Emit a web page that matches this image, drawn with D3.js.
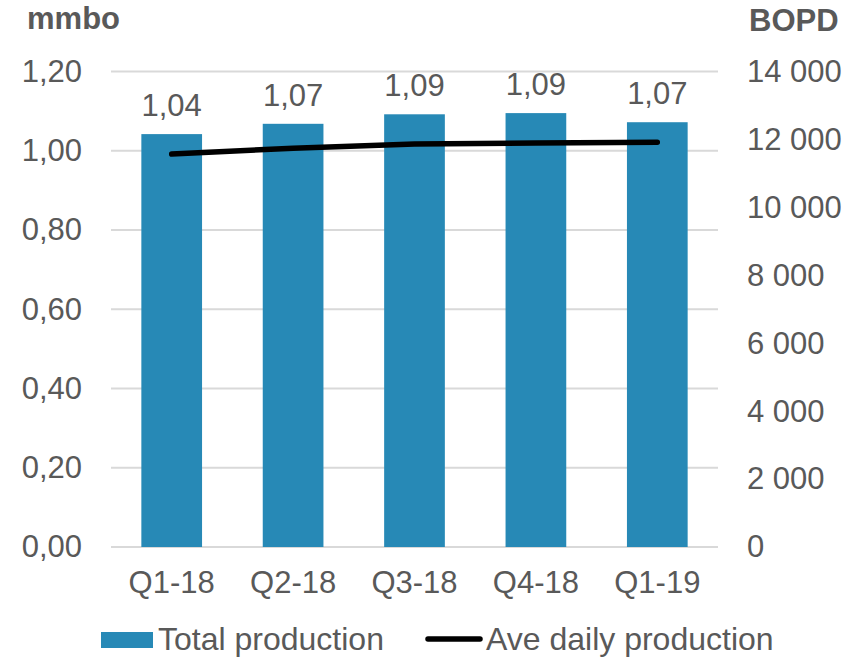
<!DOCTYPE html>
<meta charset="utf-8">
<script src="https://d3js.org/d3.v7.min.js"></script>
<style>
  body { margin: 0; background: #fff; }
  text { font-family: "Liberation Sans", Arial, sans-serif; fill: #595959; }
</style>
<div id="chart"></div>
<script>

// data
var quarters = ["Q1-18", "Q2-18", "Q3-18", "Q4-18", "Q1-19"];
var totalProduction = [1.042, 1.068, 1.092, 1.095, 1.072];   // mmbo
var dailyProduction = [11570, 11740, 11865, 11895, 11915];   // BOPD
var leftTicks = [0, 0.2, 0.4, 0.6, 0.8, 1.0, 1.2];
var rightTicks = [0, 2000, 4000, 6000, 8000, 10000, 12000, 14000];

var width = 862, height = 657;
var plot = {left: 111, right: 718, top: 71.5, bottom: 547};

var svg = d3.select("#chart").append("svg")
  .attr("width", width)
  .attr("height", height);

var x = d3.scaleBand()
  .domain(quarters)
  .range([plot.left, plot.right])
  .paddingInner(0.5)
  .paddingOuter(0.25);

var yLeft = d3.scaleLinear().domain([0, 1.2]).range([plot.bottom, plot.top]);
var yRight = d3.scaleLinear().domain([0, 14000]).range([plot.bottom, plot.top]);

var commaFmt = function(d) { return d3.format(".2f")(d).replace(".", ","); };
var spaceFmt = function(d) { return d3.format(",")(d).replace(/,/g, " "); };

// gridlines
svg.append("g")
  .selectAll("line")
  .data(leftTicks)
  .enter()
  .append("line")
  .attr("x1", plot.left)
  .attr("x2", plot.right)
  .attr("y1", function(d) { return yLeft(d); })
  .attr("y2", function(d) { return yLeft(d); })
  .attr("stroke", "#d9d9d9")
  .attr("stroke-width", 2);

// left axis
var leftAxis = svg.append("g")
  .attr("transform", "translate(82,0)")
  .call(d3.axisLeft(yLeft).tickValues(leftTicks).tickFormat(commaFmt).tickSize(0).tickPadding(0));
leftAxis.select(".domain").remove();
leftAxis.selectAll("text")
  .attr("font-size", 31)
  .style("fill", "#595959");
leftAxis.attr("font-family", null);

// right axis
var rightAxis = svg.append("g")
  .attr("transform", "translate(747,0)")
  .call(d3.axisRight(yRight).tickValues(rightTicks).tickFormat(spaceFmt).tickSize(0).tickPadding(0));
rightAxis.select(".domain").remove();
rightAxis.selectAll("text")
  .attr("font-size", 31)
  .style("fill", "#595959");
rightAxis.attr("font-family", null);

// x axis labels
var xAxis = svg.append("g")
  .attr("transform", "translate(0," + plot.bottom + ")")
  .call(d3.axisBottom(x).tickSize(0).tickPadding(24));
xAxis.select(".domain").remove();
xAxis.selectAll("text")
  .attr("font-size", 31)
  .style("fill", "#595959");
xAxis.attr("font-family", null);

// bars
svg.append("g")
  .selectAll("rect")
  .data(totalProduction)
  .enter()
  .append("rect")
  .attr("x", function(d, i) { return x(quarters[i]); })
  .attr("y", function(d) { return yLeft(d); })
  .attr("width", x.bandwidth())
  .attr("height", function(d) { return plot.bottom - yLeft(d); })
  .attr("fill", "#2789b6");

// bar value labels
svg.append("g")
  .selectAll("text")
  .data(totalProduction)
  .enter()
  .append("text")
  .attr("x", function(d, i) { return x(quarters[i]) + x.bandwidth() / 2; })
  .attr("y", function(d) { return yLeft(d) - 18; })
  .attr("text-anchor", "middle")
  .attr("font-size", 31)
  .text(commaFmt);

// line
var line = d3.line()
  .x(function(d, i) { return x(quarters[i]) + x.bandwidth() / 2; })
  .y(function(d) { return yRight(d); });

svg.append("path")
  .datum(dailyProduction)
  .attr("d", line)
  .attr("fill", "none")
  .attr("stroke", "#000")
  .attr("stroke-width", 5.5)
  .attr("stroke-linecap", "round")
  .attr("stroke-linejoin", "round");

// axis titles
svg.append("text")
  .attr("x", 27)
  .attr("y", 29)
  .attr("font-size", 31)
  .attr("font-weight", "bold")
  .text("mmbo");

svg.append("text")
  .attr("x", 749)
  .attr("y", 31)
  .attr("font-size", 31)
  .attr("font-weight", "bold")
  .text("BOPD");

// legend
var legend = svg.append("g");
legend.append("rect")
  .attr("x", 101)
  .attr("y", 632)
  .attr("width", 52)
  .attr("height", 16)
  .attr("fill", "#2789b6");
legend.append("text")
  .attr("x", 158)
  .attr("y", 650)
  .attr("font-size", 32)
  .text("Total production");
legend.append("line")
  .attr("x1", 428)
  .attr("x2", 480)
  .attr("y1", 639)
  .attr("y2", 639)
  .attr("stroke", "#000")
  .attr("stroke-width", 5.5)
  .attr("stroke-linecap", "round");
legend.append("text")
  .attr("x", 486)
  .attr("y", 650)
  .attr("font-size", 32)
  .text("Ave daily production");

</script>
